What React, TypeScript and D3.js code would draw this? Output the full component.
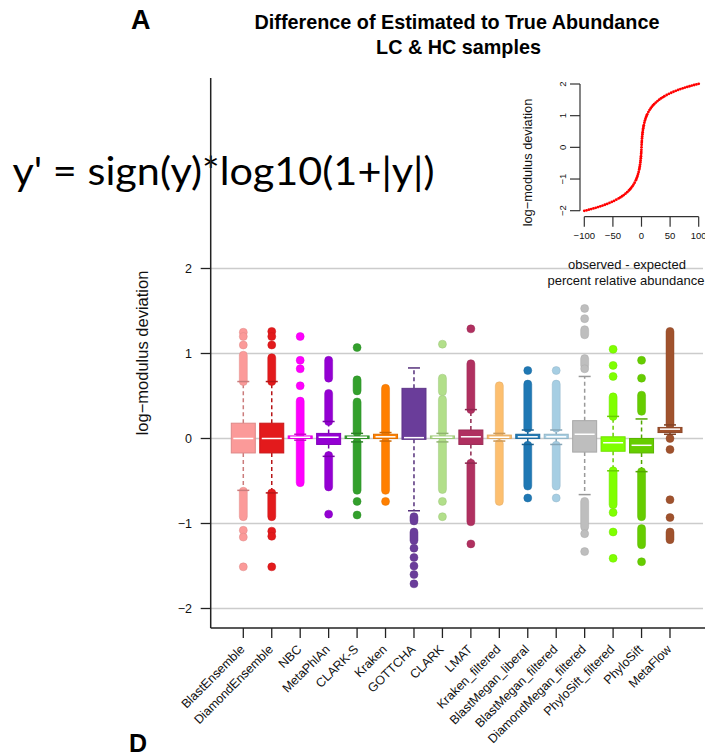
import React from 'react';
import * as d3 from 'd3';

const categories = [
  'BlastEnsemble', 'DiamondEnsemble', 'NBC', 'MetaPhlAn', 'CLARK-S', 'Kraken', 'GOTTCHA', 'CLARK',
  'LMAT', 'Kraken_filtered', 'BlastMegan_liberal', 'BlastMegan_filtered', 'DiamondMegan_filtered',
  'PhyloSift_filtered', 'PhyloSift', 'MetaFlow',
];
const colors = [
  '#FB9A99', '#E31A1C', '#FF00FF', '#9400D3', '#33A02C', '#FF7F00', '#6A3D9A', '#B2DF8A',
  '#B03060', '#FDBF6F', '#1F78B4', '#A6CEE3', '#BEBEBE', '#7FFF00', '#66CD00', '#A0522D',
];
const q1 = [-0.17, -0.17, 0.0, -0.07, 0.0, 0.0, -0.01, 0.0, -0.07, 0.0, 0.0, 0.0, -0.16, -0.15, -0.17, 0.07];
const median = [0.0, 0.0, 0.015, 0.015, 0.015, 0.02, 0.01, 0.015, 0.02, 0.015, 0.02, 0.02, 0.05, -0.05, -0.08, 0.11];
const q3 = [0.18, 0.18, 0.03, 0.06, 0.03, 0.05, 0.59, 0.03, 0.1, 0.04, 0.05, 0.05, 0.21, 0.02, 0.0, 0.13];
const whiskerLo = [-0.61, -0.64, -0.02, -0.21, -0.04, -0.03, -0.85, -0.04, -0.29, -0.03, -0.07, -0.07, -0.66, -0.38, -0.39, 0.05];
const whiskerHi = [0.67, 0.67, 0.05, 0.2, 0.06, 0.07, 0.83, 0.06, 0.34, 0.06, 0.1, 0.1, 0.73, 0.26, 0.23, 0.16];

// individual outlier points
const outlierDots: number[][] = [
  [1.25, 1.2, 1.1, -1.08, -1.16, -1.51],
  [1.26, 1.2, 1.1, -1.09, -1.15, -1.51],
  [1.2, 0.92, 0.82, 0.62],
  [-0.89],
  [1.07, -0.74, -0.9],
  [-0.74],
  [-1.29, -1.4, -1.5, -1.6, -1.71],
  [1.11, -0.74, -0.92],
  [1.29, -1.24],
  [],
  [0.8, -0.7],
  [0.8, -0.7],
  [1.53, 1.41, 0.82, -1.12, -1.33],
  [1.05, 0.86, 0.73, -0.87, -1.1, -1.41],
  [0.92, 0.71, -1.45],
  [0.0, -0.13, -0.72, -0.93],
];
// dense runs of overlapping outlier points [from, to]
const outlierRuns: [number, number][][] = [
  [[0.67, 0.98], [-0.62, -0.92]],
  [[0.67, 0.95], [-0.64, -0.92]],
  [[0.05, 0.44], [-0.03, -0.52]],
  [[0.2, 0.53], [0.71, 0.92], [-0.2, -0.57]],
  [[0.56, 0.69], [0.07, 0.43], [-0.04, -0.61]],
  [[0.07, 0.59], [-0.04, -0.61]],
  [[-0.92, -0.97], [-1.1, -1.2]],
  [[0.55, 0.71], [0.07, 0.46], [-0.04, -0.6]],
  [[0.34, 0.88], [-0.29, -0.98]],
  [[0.06, 0.62], [-0.06, -0.74]],
  [[0.12, 0.64], [-0.08, -0.56]],
  [[0.12, 0.64], [-0.08, -0.56]],
  [[1.22, 1.28], [0.86, 0.94], [-0.74, -1.04]],
  [[0.26, 0.49], [-0.38, -0.78]],
  [[0.32, 0.51], [-0.39, -0.92], [-1.06, -1.25]],
  [[0.16, 1.26], [-1.1, -1.19]],
];

const yTicks = [-2, -1, 0, 1, 2];
const insetXTicks = [-100, -50, 0, 50, 100];
const insetYTicks = [-2, -1, 0, 1, 2];
// observed - expected values sampled in the inset
const insetX = [
  -100, -96, -92, -88, -84, -80, -76, -72, -68, -64, -60, -56, -52, -48, -44, -40, -37, -34, -31, -28,
  -25, -22, -20, -18, -16, -14, -12, -10, -9, -8, -7, -6, -5, -4, -3.5, -3, -2.5, -2, -1.6, -1.2,
  -0.9, -0.6, -0.4, -0.2, 0, 0.2, 0.4, 0.6, 0.9, 1.2, 1.6, 2, 2.5, 3, 3.5, 4, 5, 6, 7, 8, 9, 10,
  12, 14, 16, 18, 20, 22, 25, 28, 31, 34, 37, 40, 44, 48, 52, 56, 60, 64, 68, 72, 76, 80, 84, 88,
  92, 96, 100,
];
const logModulus = (v: number) => Math.sign(v) * Math.log10(1 + Math.abs(v));

const FONT = '"Liberation Sans", Arial, Helvetica, sans-serif';
const minus = (v: number) => (v < 0 ? '\u2212' + Math.abs(v) : String(v));

export default function App() {
  const y = d3.scaleLinear().domain([-2, 2]).range([608.5, 268.5]);
  const x = d3.scalePoint<string>().domain(categories).range([243.3, 670]);
  const boxW = 24;
  const r = 4;
  const axisLeft = 210.7;
  const axisBottom = 628;

  const ix = d3.scaleLinear().domain([-100, 100]).range([584.3, 698.7]);
  const iy = d3.scaleLinear().domain([-2, 2]).range([210.7, 84]);
  const iAxisX = 580;
  const iAxisY = 216.7;

  return (
    <svg width={705} height={756} style={{ position: 'absolute', left: 0, top: 0, background: '#fff' }}
      fontFamily={FONT}>
      <rect x={0} y={0} width={705} height={756} fill="#fff" />
      {/* panel letters */}
      <text x={131} y={29} fontSize={27} fontWeight="bold" fill="#000">A</text>
      <text x={129} y={752} fontSize={25} fontWeight="bold" fill="#000">D</text>
      {/* title */}
      <text x={457} y={29} fontSize={19.8} fontWeight="bold" textAnchor="middle" fill="#000">Difference of Estimated to True Abundance</text>
      <text x={458.5} y={54} fontSize={19.8} fontWeight="bold" textAnchor="middle" fill="#000">LC &amp; HC samples</text>

      {/* gridlines */}
      {yTicks.map((t) => (
        <line key={'g' + t} x1={axisLeft} x2={703} y1={y(t)} y2={y(t)} stroke="#cccccc" strokeWidth={1.3} />
      ))}

      {/* formula */}
      <text x={12.5} y={185} fontSize={38} fontFamily='"Lato", "Open Sans", sans-serif' fill="#000"
        textLength={422} lengthAdjust="spacingAndGlyphs">y' = sign(y)*log10(1+|y|)</text>

      {/* axes */}
      <line x1={axisLeft} x2={axisLeft} y1={78} y2={axisBottom} stroke="#222" strokeWidth={1.5} />
      <line x1={axisLeft} x2={705} y1={axisBottom} y2={axisBottom} stroke="#222" strokeWidth={1.5} />
      {yTicks.map((t) => (
        <g key={'yt' + t}>
          <line x1={axisLeft - 10} x2={axisLeft} y1={y(t)} y2={y(t)} stroke="#222" strokeWidth={1.3} />
          <text x={192} y={y(t)} dy="0.36em" fontSize={12.5} textAnchor="end" fill="#111">{minus(t)}</text>
        </g>
      ))}
      <text transform={`translate(148,353) rotate(-90)`} fontSize={16.5} textAnchor="middle" fill="#111">log{'\u2212'}modulus deviation</text>

      {categories.map((c) => (
        <g key={'xt' + c}>
          <line x1={x(c)} x2={x(c)} y1={axisBottom} y2={axisBottom + 10} stroke="#222" strokeWidth={1.3} />
          <text transform={`translate(${(x(c) as number) - 1},${647}) rotate(-45)`} fontSize={12.5}
            textAnchor="end" dy="0.35em" fill="#111">{c}</text>
        </g>
      ))}

      {/* boxplots */}
      {categories.map((c, i) => {
        const cx = x(c) as number;
        const col = colors[i];
        const dark = d3.color(col)!.darker(0.6).formatHex();
        const border = d3.color(col)!.darker(0.35).formatHex();
        return (
          <g key={'b' + c}>
            {/* whiskers */}
            <line x1={cx} x2={cx} y1={y(q3[i])} y2={y(whiskerHi[i])} stroke={dark} strokeWidth={1.5} strokeDasharray="4,3" />
            <line x1={cx} x2={cx} y1={y(q1[i])} y2={y(whiskerLo[i])} stroke={dark} strokeWidth={1.5} strokeDasharray="4,3" />
            {/* outlier runs */}
            {outlierRuns[i].map(([a, b], k) => {
              const top = y(Math.max(a, b)) - r;
              const bot = y(Math.min(a, b)) + r;
              return (
                <rect key={'r' + k} x={cx - r} y={top} width={2 * r} height={bot - top} rx={r} ry={r}
                  fill={col} stroke={border} strokeOpacity={0.6} strokeWidth={0.8} />
              );
            })}
            {outlierDots[i].map((v, k) => (
              <circle key={'d' + k} cx={cx} cy={y(v)} r={r} fill={col} stroke={border} strokeOpacity={0.6} strokeWidth={0.8} />
            ))}
            {/* staples */}
            <line x1={cx - boxW / 4} x2={cx + boxW / 4} y1={y(whiskerHi[i])} y2={y(whiskerHi[i])} stroke={dark} strokeWidth={1.5} />
            <line x1={cx - boxW / 4} x2={cx + boxW / 4} y1={y(whiskerLo[i])} y2={y(whiskerLo[i])} stroke={dark} strokeWidth={1.5} />
            {/* box */}
            <rect x={cx - boxW / 2} y={y(q3[i])} width={boxW} height={y(q1[i]) - y(q3[i])} fill={col} stroke={border} strokeWidth={1} />
            <line x1={cx - boxW / 2 + 2} x2={cx + boxW / 2 - 2} y1={y(median[i])} y2={y(median[i])} stroke="#fff" strokeWidth={1.5} />
          </g>
        );
      })}

      {/* inset */}
      <line x1={iAxisX} x2={iAxisX} y1={iy(2)} y2={iy(-2)} stroke="#333" strokeWidth={1.2} />
      {insetYTicks.map((t) => (
        <g key={'iy' + t}>
          <line x1={iAxisX - 10} x2={iAxisX} y1={iy(t)} y2={iy(t)} stroke="#333" strokeWidth={1.2} />
          <text transform={`translate(${563},${iy(t)}) rotate(-90)`} fontSize={9.5} textAnchor="middle" dy="0.35em" fill="#111">{minus(t)}</text>
        </g>
      ))}
      <line x1={ix(-100)} x2={ix(100)} y1={iAxisY} y2={iAxisY} stroke="#333" strokeWidth={1.2} />
      {insetXTicks.map((t) => (
        <g key={'ix' + t}>
          <line x1={ix(t)} x2={ix(t)} y1={iAxisY} y2={iAxisY + 10} stroke="#333" strokeWidth={1.2} />
          <text x={ix(t)} y={235.5} dy="0.35em" fontSize={9.5} textAnchor="middle" fill="#111">{minus(t)}</text>
        </g>
      ))}
      <text transform={`translate(${532},${162.5}) rotate(-90)`} fontSize={12.8} textAnchor="middle" fill="#111">log{'\u2212'}modulus deviation</text>
      {insetX.map((v, k) => (
        <circle key={'ip' + k} cx={ix(v)} cy={iy(logModulus(v))} r={1.4} fill="#FF0000" />
      ))}
      <text x={627} y={264} dy="0.35em" fontSize={13} textAnchor="middle" fill="#111">observed - expected</text>
      <text x={626} y={280} dy="0.35em" fontSize={13} textAnchor="middle" fill="#111">percent relative abundance</text>
    </svg>
  );
}
